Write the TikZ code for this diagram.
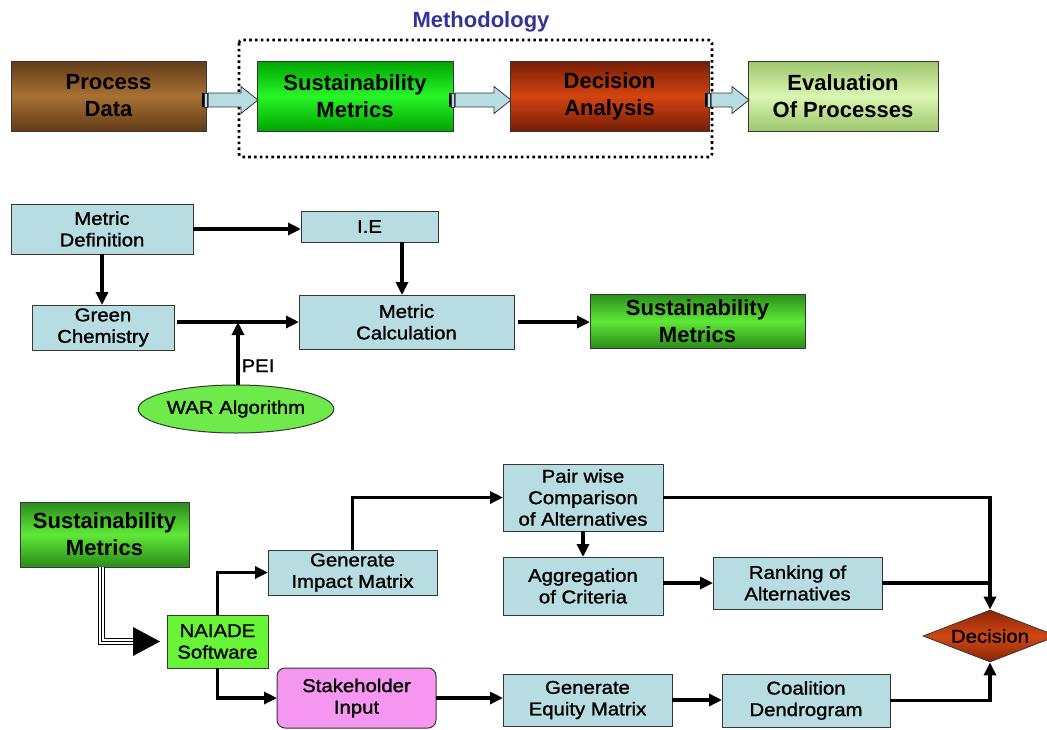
\documentclass[tikz,border=0pt]{standalone}
\usepackage{fontspec}
\setmainfont{Liberation Sans}
\newfontfamily\bodyfont[FakeStretch=1.1,FakeBold=1.3]{Liberation Sans}
\usetikzlibrary{shapes.geometric,arrows.meta,calc}

\definecolor{lblue}{RGB}{183,221,227}
\definecolor{boxline}{RGB}{55,55,55}
\definecolor{methblue}{RGB}{51,51,153}
\definecolor{naiadegreen}{RGB}{105,245,55}
\definecolor{stakepink}{RGB}{245,150,240}
\definecolor{wargreen}{RGB}{110,235,75}
\definecolor{brownDark}{RGB}{98,60,24}
\definecolor{brownLight}{RGB}{168,112,52}
\definecolor{greenDark}{RGB}{0,165,0}
\definecolor{greenLight}{RGB}{40,245,40}
\definecolor{redDark}{RGB}{118,30,6}
\definecolor{redLight}{RGB}{212,68,16}
\definecolor{paleDark}{RGB}{158,198,110}
\definecolor{paleLight}{RGB}{218,246,178}
\definecolor{mgreenDark}{RGB}{42,140,25}
\definecolor{mgreenLight}{RGB}{95,232,55}
\definecolor{decDark}{RGB}{140,36,6}
\definecolor{decLight}{RGB}{208,72,20}

\tikzset{
  headbox/.style={draw=boxline, line width=1pt, inner sep=0pt, outer sep=0pt,
    align=center, text=black, font={\fontsize{22}{27}\selectfont\bfseries}},
  infobox/.style={draw=boxline, fill=lblue, line width=1pt, inner sep=0pt,
    outer sep=0pt, align=center, text=black,
    font={\bodyfont\fontsize{18.5}{21.5}\selectfont}},
  conn/.style={line width=3.2pt, draw=black, -{Triangle[length=13pt,width=12pt]}},
  wire/.style={line width=3.2pt, draw=black},
  tripleline/.style={line width=7pt, draw=black,
    postaction={draw=white, line width=4.4pt},
    postaction={draw=black, line width=1.2pt}},
  shade3/.style 2 args={top color=#1, bottom color=#1, middle color=#2},
}

% hollow block arrow with a striped tail, from one node to the next
\newcommand\fatarrow[2]{%
  \path let \p1=($(#1.east)+(-4,4)$), \p2=($(#2.west)+(1,4)$) in
    (\x1,\y1) coordinate (fa-a) (\x2,\y1) coordinate (fa-b);
  \fill[black] ($(fa-a)+(0,-7)$) rectangle ($(fa-a)+(2.6,7)$);
  \filldraw[fill=lblue, draw=boxline, line width=0.6pt]
    ($(fa-a)+(2.6,-7)$) rectangle ($(fa-a)+(5.2,7)$);
  \filldraw[fill=lblue, draw=boxline, line width=0.8pt]
    ($(fa-a)+(6.2,-7)$) -- ($(fa-b)+(-17,-7)$) -- ($(fa-b)+(-17,-13.5)$)
    -- (fa-b) -- ($(fa-b)+(-17,13.5)$) -- ($(fa-b)+(-17,7)$)
    -- ($(fa-a)+(6.2,7)$) -- cycle;
}

\begin{document}
\begin{tikzpicture}[x=1pt,y=-1pt]
\useasboundingbox[fill=white] (0,0) rectangle (1047,729);

% ---------- overview row ----------
\node[font={\fontsize{22}{26}\selectfont\bfseries}, text=methblue] (meth) at (481,22) {Methodology};
\draw[line width=2.6pt, dash pattern=on 2.6pt off 3.2pt, rounded corners=3pt]
  (239,40) rectangle (712,157);

\node[headbox, minimum width=195, minimum height=70, shade3={brownDark}{brownLight}]
  (pd) at (108.5,96) {Process\\Data};
\node[headbox, minimum width=196, minimum height=70, shade3={greenDark}{greenLight}]
  (sm) at (355,96) {Sustainability\\Metrics};
\node[headbox, minimum width=199, minimum height=70, shade3={redDark}{redLight}]
  (da) at (609.5,96) {Decision\\Analysis};
\node[headbox, minimum width=190, minimum height=70, shade3={paleDark}{paleLight}]
  (ev) at (843,96) {Evaluation\\Of Processes};

\fatarrow{pd}{sm}
\fatarrow{sm}{da}
\fatarrow{da}{ev}

% ---------- metric calculation ----------
\node[infobox, minimum width=182, minimum height=50] (md) at (102,229) {Metric\\Definition};
\node[infobox, minimum width=137, minimum height=31] (ie) at (369.5,226.5) {I.E};
\node[infobox, minimum width=142, minimum height=45] (gc) at (103,327.5) {Green\\Chemistry};
\node[infobox, minimum width=215, minimum height=54] (mc) at (406.5,322) {Metric\\Calculation};
\node[headbox, minimum width=215, minimum height=54, shade3={mgreenDark}{mgreenLight}]
  (sm2) at (697.5,321) {Sustainability\\Metrics};
\node[ellipse, draw=boxline, fill=wargreen, line width=1pt, inner sep=0pt,
  minimum width=194, minimum height=48, text=black,
  font={\bodyfont\fontsize{18.5}{21.5}\selectfont}] (war) at (236,409) {WAR Algorithm};

\coordinate (pj) at (238,322);
\coordinate (ies) at ($(ie.south)+(32.5,0)$);
\draw[conn] (md.east) -- (md.east -| ie.west);
\draw[conn] (md.south) -- (md.south |- gc.north);
\draw[conn] (ies) -- (ies |- mc.north);
\draw[conn, shorten <=3pt] (mc.west -| gc.east) -- (mc.west);
\draw[conn] (war.north -| pj) -- (pj)
  node[pos=0.3, right=2pt, inner sep=0pt, text=black,
       font={\bodyfont\fontsize{18.5}{21.5}\selectfont}] (pei) {PEI};
\draw[conn, shorten <=4pt] (mc.east) -- (mc.east -| sm2.west);

% ---------- decision analysis ----------
\node[headbox, minimum width=169, minimum height=65, shade3={mgreenDark}{mgreenLight}]
  (smb) at (104.5,534.5) {Sustainability\\Metrics};
\node[infobox, fill=naiadegreen, minimum width=101, minimum height=53] (na) at (217.5,641.5) {NAIADE\\Software};
\node[infobox, minimum width=169, minimum height=45] (gim) at (352.5,572.5) {Generate\\Impact Matrix};
\node[infobox, fill=stakepink, rounded corners=8pt, minimum width=159, minimum height=60] (sh) at (356.5,698) {Stakeholder\\Input};
\node[infobox, minimum width=160, minimum height=67] (pw) at (583,497.5) {Pair wise\\Comparison\\of Alternatives};
\node[infobox, minimum width=160, minimum height=58] (agg) at (583,586) {Aggregation\\of Criteria};
\node[infobox, minimum width=169, minimum height=52] (rk) at (797.5,583) {Ranking of\\Alternatives};
\node[infobox, minimum width=169, minimum height=52] (geq) at (587.5,700) {Generate\\Equity Matrix};
\node[infobox, minimum width=168, minimum height=53] (co) at (806,700.5) {Coalition\\Dendrogram};
\node[diamond, aspect=2.6, draw=boxline, line width=0.8pt, inner sep=0pt,
  minimum width=134, minimum height=52, shade3={decDark}{decLight}, text=black,
  font={\bodyfont\fontsize{18.5}{21.5}\selectfont}] (dec) at (990,636) {Decision};

% triple line feed into NAIADE
\coordinate (tipA) at ($(na.west)+(-7,0)$);
\draw[tripleline] ($(smb.south)+(-3,0)$) |- ($(tipA)+(-27,0)$);
\fill[black] ($(tipA)+(-27,-14.5)$) -- (tipA) -- ($(tipA)+(-27,14.5)$) -- cycle;

\draw[conn] (na.north) |- (gim.west);
\draw[conn] (na.south) |- (sh.west);
\draw[conn] (gim.north) |- (pw.west);
\draw[conn] (pw.south) -- (agg.north);
\draw[conn] (pw.east) -| (dec.north);
\draw[conn] (rk.west -| agg.east) -- (rk.west);
\draw[wire] (rk.east) -- (rk.east -| dec.north);
\draw[conn] (sh.east) -- (sh.east -| geq.west);
\draw[conn] (geq.east) -- (geq.east -| co.west);
\draw[conn] (co.east) -| (dec.south);
\end{tikzpicture}
\end{document}
